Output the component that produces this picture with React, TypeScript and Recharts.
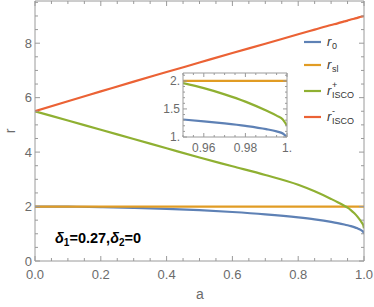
import { LineChart, Line, XAxis, YAxis, CartesianGrid } from 'recharts';

// spin parameter a
const aValues = [0, 0.1, 0.2, 0.3, 0.4, 0.5, 0.6, 0.7, 0.8, 0.85, 0.9, 0.92, 0.94, 0.95, 0.96, 0.97, 0.98, 0.99, 0.995, 0.998, 1.0];
const r0 = [2.0, 1.995, 1.98, 1.954, 1.917, 1.866, 1.8, 1.714, 1.6, 1.527, 1.436, 1.392, 1.341, 1.312, 1.28, 1.243, 1.199, 1.141, 1.1, 1.063, 1.0];
const rSl = [2.0, 2.0, 2.0, 2.0, 2.0, 2.0, 2.0, 2.0, 2.0, 2.0, 2.0, 2.0, 2.0, 2.0, 2.0, 2.0, 2.0, 2.0, 2.0, 2.0, 2.0];
const rIscoPlus = [5.5, 5.16, 4.82, 4.48, 4.14, 3.8, 3.48, 3.16, 2.8, 2.56, 2.28, 2.16, 2.03, 1.96, 1.87, 1.76, 1.63, 1.47, 1.38, 1.31, 1.2];
const rIscoMinus = [5.5, 5.87, 6.23, 6.59, 6.94, 7.29, 7.64, 7.98, 8.33, 8.5, 8.67, 8.73, 8.8, 8.83, 8.87, 8.9, 8.93, 8.97, 8.98, 8.99, 9.0];

const mainXTicks = [0, 0.05, 0.1, 0.15, 0.2, 0.25, 0.3, 0.35, 0.4, 0.45, 0.5, 0.55, 0.6, 0.65, 0.7, 0.75, 0.8, 0.85, 0.9, 0.95, 1.0];
const mainXLabels = [0, 0.2, 0.4, 0.6, 0.8, 1.0];
const mainYTicks = [0, 0.5, 1, 1.5, 2, 2.5, 3, 3.5, 4, 4.5, 5, 5.5, 6, 6.5, 7, 7.5, 8, 8.5, 9, 9.5];
const mainYLabels = [0, 2, 4, 6, 8];

const insetXTicks = [0.95, 0.955, 0.96, 0.965, 0.97, 0.975, 0.98, 0.985, 0.99, 0.995, 1.0];
const insetXLabels = [0.96, 0.98, 1.0];
const insetYTicks = [1, 1.1, 1.2, 1.3, 1.4, 1.5, 1.6, 1.7, 1.8, 1.9, 2.0, 2.1];
const insetYLabels = [1, 1.5, 2];

const COLORS = { r0: '#5E81B5', sl: '#E19C24', plus: '#8FB032', minus: '#EB6235' };
const FRAME = '#9a9a9a';
const LABEL = '#6b6b6b';
const FONT = '"Liberation Sans", Arial, sans-serif';

const data = aValues.map((a, i) => ({
  a,
  r0: r0[i],
  rSl: rSl[i],
  plus: rIscoPlus[i],
  minus: rIscoMinus[i],
}));
const insetData = data.filter((d) => d.a >= 0.95);

// mathematica style number: 1 -> "1."
const mmaFmt = (v: number) => (Number.isInteger(v) ? `${v}.` : `${v}`);

type Side = 'bottom' | 'top' | 'left' | 'right';

function makeTick(side: Side, labels: number[], fmt: ((v: number) => string) | null, major: number, minor: number, fontSize: number, gap = 2) {
  return (props: any) => {
    const { x, y, payload } = props;
    const v = payload.value as number;
    const isMajor = labels.some((l) => Math.abs(l - v) < 1e-9);
    const len = isMajor ? major : minor;
    let line;
    if (side === 'bottom') line = <line x1={x} y1={y} x2={x} y2={y - len} stroke={FRAME} />;
    else if (side === 'top') line = <line x1={x} y1={y} x2={x} y2={y + len} stroke={FRAME} />;
    else if (side === 'left') line = <line x1={x} y1={y} x2={x + len} y2={y} stroke={FRAME} />;
    else line = <line x1={x} y1={y} x2={x - len} y2={y} stroke={FRAME} />;
    let label = null;
    if (isMajor && fmt) {
      if (side === 'bottom') {
        label = (
          <text x={x} y={y + fontSize + gap} textAnchor="middle" fontSize={fontSize} fill={LABEL} fontFamily={FONT}>
            {fmt(v)}
          </text>
        );
      } else if (side === 'left') {
        label = (
          <text x={x - 3} y={y + fontSize * 0.36} textAnchor="end" fontSize={fontSize} fill={LABEL} fontFamily={FONT}>
            {fmt(v)}
          </text>
        );
      }
    }
    return (
      <g>
        {line}
        {label}
      </g>
    );
  };
}

export default function App() {
  return (
    <div style={{ position: 'absolute', left: 0, top: 0, width: 374, height: 307, background: '#fff' }}>
      <div style={{ position: 'absolute', left: 0, top: 0 }}>
        <LineChart width={374} height={307} data={data} margin={{ top: 0, right: 9, bottom: 16, left: 5 }}>
          <XAxis
            dataKey="a"
            type="number"
            domain={[0, 1]}
            ticks={mainXTicks}
            interval={0}
            height={30}
            tickSize={0}
            tickMargin={0}
            tickLine={false}
            axisLine={{ stroke: FRAME }}
            tick={makeTick('bottom', mainXLabels, (v) => v.toFixed(1), 5, 3, 13, 5)}
            allowDataOverflow
          />
          <XAxis
            xAxisId="top"
            orientation="top"
            dataKey="a"
            type="number"
            domain={[0, 1]}
            ticks={mainXTicks}
            interval={0}
            height={1}
            tickSize={0}
            tickMargin={0}
            tickLine={false}
            axisLine={{ stroke: FRAME }}
            tick={makeTick('top', mainXLabels, null, 5, 3, 13)}
            allowDataOverflow
          />
          <YAxis
            type="number"
            domain={[0, 9.55]}
            ticks={mainYTicks}
            interval={0}
            width={30}
            tickSize={0}
            tickMargin={0}
            tickLine={false}
            axisLine={{ stroke: FRAME }}
            tick={makeTick('left', mainYLabels, (v) => `${v}`, 5, 3, 13)}
            allowDataOverflow
          />
          <YAxis
            yAxisId="right"
            orientation="right"
            type="number"
            domain={[0, 9.55]}
            ticks={mainYTicks}
            interval={0}
            width={1}
            tickSize={0}
            tickMargin={0}
            tickLine={false}
            axisLine={{ stroke: FRAME }}
            tick={makeTick('right', mainYLabels, null, 5, 3, 13)}
            allowDataOverflow
          />
          <Line type="monotone" dataKey="r0" stroke={COLORS.r0} strokeWidth={2.2} dot={false} isAnimationActive={false} />
          <Line type="monotone" dataKey="rSl" stroke={COLORS.sl} strokeWidth={2.2} dot={false} isAnimationActive={false} />
          <Line type="monotone" dataKey="plus" stroke={COLORS.plus} strokeWidth={2.2} dot={false} isAnimationActive={false} />
          <Line type="monotone" dataKey="minus" stroke={COLORS.minus} strokeWidth={2.2} dot={false} isAnimationActive={false} />
        </LineChart>
      </div>

      <div style={{ position: 'absolute', left: 150, top: 60 }}>
        <LineChart width={142} height={97} data={insetData} margin={{ top: 12, right: 4, bottom: 0, left: 0 }}>
          <CartesianGrid horizontal={false} vertical={false} fill="#fff" />
          <XAxis
            dataKey="a"
            type="number"
            domain={[0.95, 1]}
            ticks={insetXTicks}
            interval={0}
            height={20}
            tickSize={0}
            tickMargin={0}
            tickLine={false}
            axisLine={{ stroke: FRAME }}
            tick={makeTick('bottom', insetXLabels, mmaFmt, 4, 2, 12, 3)}
            allowDataOverflow
          />
          <XAxis
            xAxisId="top"
            orientation="top"
            dataKey="a"
            type="number"
            domain={[0.95, 1]}
            ticks={insetXTicks}
            interval={0}
            height={1}
            tickSize={0}
            tickMargin={0}
            tickLine={false}
            axisLine={{ stroke: FRAME }}
            tick={makeTick('top', insetXLabels, null, 4, 2, 12)}
            allowDataOverflow
          />
          <YAxis
            type="number"
            domain={[1, 2.14]}
            ticks={insetYTicks}
            interval={0}
            width={33}
            tickSize={0}
            tickMargin={0}
            tickLine={false}
            axisLine={{ stroke: FRAME }}
            tick={makeTick('left', insetYLabels, mmaFmt, 4, 2, 12)}
            allowDataOverflow
          />
          <YAxis
            yAxisId="right"
            orientation="right"
            type="number"
            domain={[1, 2.14]}
            ticks={insetYTicks}
            interval={0}
            width={1}
            tickSize={0}
            tickMargin={0}
            tickLine={false}
            axisLine={{ stroke: FRAME }}
            tick={makeTick('right', insetYLabels, null, 4, 2, 12)}
            allowDataOverflow
          />
          <Line type="monotone" dataKey="r0" stroke={COLORS.r0} strokeWidth={2.2} dot={false} isAnimationActive={false} />
          <Line type="monotone" dataKey="rSl" stroke={COLORS.sl} strokeWidth={2.2} dot={false} isAnimationActive={false} />
          <Line type="monotone" dataKey="plus" stroke={COLORS.plus} strokeWidth={2.2} dot={false} isAnimationActive={false} />
        </LineChart>
      </div>

      <svg width={374} height={307} style={{ position: 'absolute', left: 0, top: 0, pointerEvents: 'none' }}>
        {/* axis labels */}
        <text x={200} y={299} textAnchor="middle" fontSize={14} fill={LABEL} fontFamily={FONT}>a</text>
        <text transform="translate(15,131) rotate(-90)" textAnchor="middle" fontSize={14} fill={LABEL} fontFamily={FONT}>r</text>

        {/* legend */}
        <g fontFamily={FONT} fill="#333">
          <line x1={304} y1={42} x2={321} y2={42} stroke={COLORS.r0} strokeWidth={2.2} />
          <text x={327} y={46} fontSize={13} fontStyle="italic">r</text>
          <text x={332} y={49} fontSize={9}>0</text>

          <line x1={304} y1={65} x2={321} y2={65} stroke={COLORS.sl} strokeWidth={2.2} />
          <text x={327} y={69} fontSize={13} fontStyle="italic">r</text>
          <text x={332} y={72} fontSize={9}>sl</text>

          <line x1={304} y1={91} x2={321} y2={91} stroke={COLORS.plus} strokeWidth={2.2} />
          <text x={327} y={95} fontSize={13} fontStyle="italic">r</text>
          <text x={332} y={88} fontSize={9}>+</text>
          <text x={332} y={98} fontSize={9}>ISCO</text>

          <line x1={304} y1={117} x2={321} y2={117} stroke={COLORS.minus} strokeWidth={2.2} />
          <text x={327} y={121} fontSize={13} fontStyle="italic">r</text>
          <text x={332} y={114} fontSize={9}>-</text>
          <text x={332} y={124} fontSize={9}>ISCO</text>
        </g>

        {/* parameter annotation */}
        <text x={55} y={243} fontSize={14.5} fontWeight="bold" fontFamily={FONT} fill="#000">
          <tspan fontStyle="italic">δ</tspan>
          <tspan fontSize={10} dy={3}>1</tspan>
          <tspan dy={-3}>=0.27,</tspan>
          <tspan fontStyle="italic">δ</tspan>
          <tspan fontSize={10} dy={3}>2</tspan>
          <tspan dy={-3}>=0</tspan>
        </text>
      </svg>
    </div>
  );
}
